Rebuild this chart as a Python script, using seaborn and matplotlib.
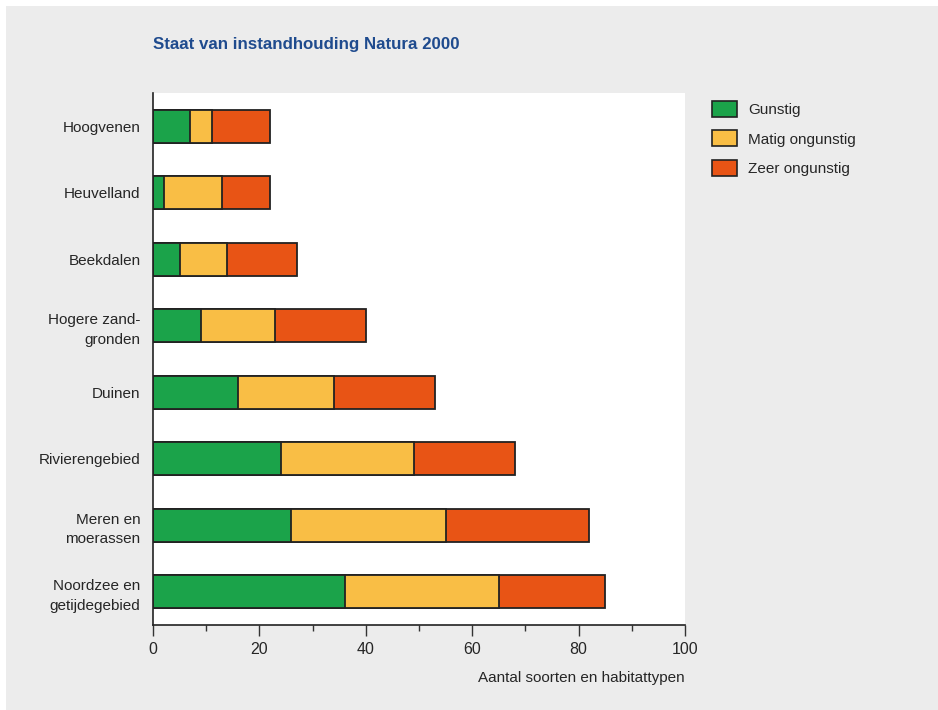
import matplotlib
matplotlib.use("Agg")
import matplotlib.pyplot as plt
from matplotlib.patches import Rectangle, Patch
from matplotlib.ticker import MultipleLocator
import seaborn as sns
import pandas as pd
import numpy as np

categories = ["Hoogvenen", "Heuvelland", "Beekdalen", "Hogere zand-\ngronden", "Duinen",
              "Rivierengebied", "Meren en\nmoerassen", "Noordzee en\ngetijdegebied"]
gunstig = [7, 2, 5, 9, 16, 24, 26, 36]
matig = [4, 11, 9, 14, 18, 25, 29, 29]
zeer = [11, 9, 13, 17, 19, 19, 27, 20]
series_names = ["Gunstig", "Matig ongunstig", "Zeer ongunstig"]
colors = ["#1BA34A", "#F9BE45", "#E85415"]
xticks = [0, 20, 40, 60, 80, 100]

sns.set_theme(style="white")
plt.rcParams['font.family'] = ['Liberation Sans', 'DejaVu Sans']

fig = plt.figure(figsize=(9.38, 7.10), dpi=100)
fig.patch.set_facecolor("white")
fig.patches.append(Rectangle((6/938, 0), 1 - 6/938, 1 - 6/710, transform=fig.transFigure,
                             facecolor="#ECECEC", edgecolor="none", zorder=-10))

ax = fig.add_axes([153/938, 1 - 625/710, (685 - 153)/938, (625 - 93)/710])
ax.set_facecolor("white")

df = pd.DataFrame({"cat": categories, "g": gunstig, "m": matig, "z": zeer})
cum1 = df["g"].to_numpy()
cum2 = cum1 + df["m"].to_numpy()
cum3 = cum2 + df["z"].to_numpy()

for vals, col in [(cum3, colors[2]), (cum2, colors[1]), (cum1, colors[0])]:
    sns.barplot(x=vals, y=df["cat"], orient="h", order=categories, color=col,
                saturation=1, width=0.5, edgecolor="#222222", linewidth=1.3, ax=ax)

ax.set_xlim(0, 100)
ax.set_ylim(7.5, -0.5)
ax.set_xticks(xticks)
ax.xaxis.set_minor_locator(MultipleLocator(10))
ax.tick_params(axis="x", which="major", direction="out", length=8, width=1, color="#333333",
               labelsize=11.5, pad=4, bottom=True)
ax.tick_params(axis="x", which="minor", direction="out", length=4, width=1, color="#333333", bottom=True)
ax.tick_params(axis="y", length=0, labelsize=11, pad=9)
for lab in ax.get_yticklabels():
    lab.set_horizontalalignment("right")
    lab.set_linespacing(1.5)
for s in ["top", "right"]:
    ax.spines[s].set_visible(False)
for s in ["left", "bottom"]:
    ax.spines[s].set_color("#222222")
    ax.spines[s].set_linewidth(1.2)
ax.set_ylabel("")
ax.set_xlabel("Aantal soorten en habitattypen", fontsize=11, ha="right", x=1.0, labelpad=10)

fig.text(153/938, 1 - 44/710, "Staat van instandhouding Natura 2000", fontsize=12.2,
         fontweight="bold", color="#1F4B8E", va="center", ha="left")

handles = [Patch(facecolor=c, edgecolor="#222222", linewidth=1.2) for c in colors]
fig.legend(handles, series_names, loc="upper left", bbox_to_anchor=(706/938, 1 - 95/710),
           frameon=False, fontsize=11, handlelength=1.6, handleheight=1.25,
           labelspacing=0.85, handletextpad=0.75, borderaxespad=0, borderpad=0.4)

fig.savefig("out.png", dpi=100, facecolor=fig.get_facecolor())
